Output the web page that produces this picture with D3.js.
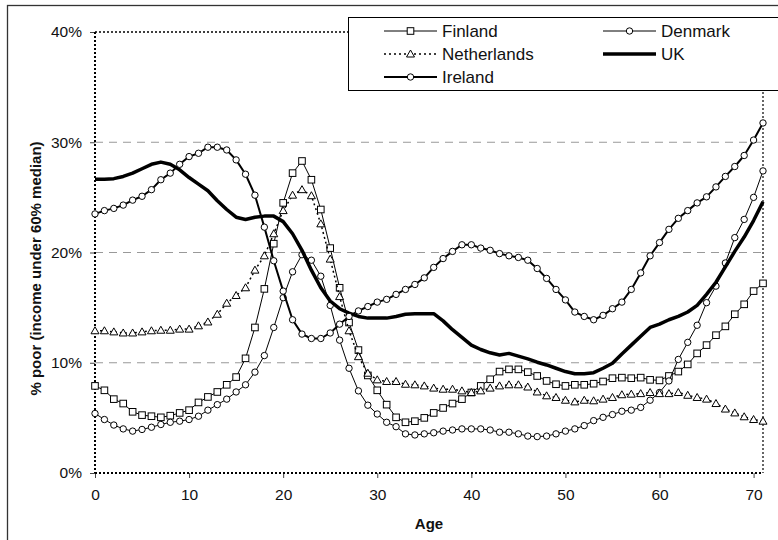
<!DOCTYPE html>
<html><head><meta charset="utf-8">
<script src="https://cdn.jsdelivr.net/npm/d3@7"></script>
<style>body{margin:0;background:#fff}svg{display:block;font-family:"Liberation Sans",Arial,sans-serif}</style>
</head><body><svg id="c" width="778" height="540"></svg>
<script>
const ages = [0,1,2,3,4,5,6,7,8,9,10,11,12,13,14,15,16,17,18,19,20,21,22,23,24,25,26,27,28,29,30,31,32,33,34,35,36,37,38,39,40,41,42,43,44,45,46,47,48,49,50,51,52,53,54,55,56,57,58,59,60,61,62,63,64,65,66,67,68,69,70,71];
const finland = [7.9,7.5,6.7,6.3,5.55,5.25,5.15,5.05,5.2,5.45,5.7,6.4,6.9,7.35,8.0,8.7,10.4,13.2,16.7,20.8,24.5,27.2,28.3,26.6,23.9,20.4,16.8,13.65,11.15,8.85,7.5,6.2,5.05,4.6,4.7,5.0,5.45,5.9,6.3,6.7,7.3,7.9,8.5,9.2,9.4,9.4,9.15,8.8,8.35,8.05,7.9,8.0,8.0,8.1,8.3,8.6,8.65,8.6,8.65,8.45,8.4,8.8,9.2,9.85,10.85,11.6,12.5,13.3,14.4,15.3,16.5,17.2];
const denmark = [5.4,4.85,4.35,4.0,3.8,3.95,4.15,4.4,4.6,4.7,4.85,5.15,5.7,6.2,6.7,7.35,8.0,9.15,10.65,13.2,15.9,18.25,19.8,19.3,17.85,15.2,12.05,9.5,7.45,6.15,5.35,4.6,4.2,3.55,3.45,3.55,3.65,3.8,3.9,4.0,4.0,4.0,3.9,3.7,3.7,3.55,3.35,3.3,3.35,3.55,3.8,4.0,4.3,4.75,5.05,5.3,5.6,5.7,5.95,6.6,7.3,8.35,10.3,11.85,13.4,15.45,16.95,19.05,21.35,23.0,25.0,27.4];
const netherlands = [12.9,12.9,12.8,12.7,12.7,12.8,12.9,12.95,12.95,13.05,13.05,13.35,13.7,14.4,15.4,16.1,16.8,18.4,19.7,21.7,23.8,25.2,25.7,25.15,22.6,19.4,16.0,12.9,10.55,9.05,8.45,8.3,8.3,8.05,8.0,7.9,7.7,7.6,7.6,7.45,7.3,7.45,7.7,7.9,8.0,8.0,7.8,7.35,7.0,6.85,6.6,6.45,6.6,6.55,6.7,6.85,7.1,7.15,7.2,7.3,7.2,7.2,7.3,7.05,6.85,6.7,6.3,5.8,5.45,5.1,4.85,4.7];
const uk = [26.65,26.65,26.7,26.9,27.2,27.6,28.0,28.2,28.0,27.5,26.8,26.2,25.6,24.7,23.9,23.2,23.0,23.2,23.3,23.3,22.8,21.7,20.2,18.4,16.8,15.6,14.9,14.5,14.2,14.05,14.05,14.05,14.2,14.4,14.45,14.45,14.45,13.8,13.0,12.3,11.6,11.2,10.9,10.7,10.85,10.6,10.35,10.05,9.8,9.5,9.2,9.0,9.0,9.1,9.5,9.95,10.8,11.6,12.4,13.2,13.5,13.9,14.2,14.6,15.2,16.2,17.3,18.7,20.1,21.4,22.9,24.6];
const ireland = [23.5,23.8,24.0,24.3,24.75,25.1,25.7,26.6,27.2,28.0,28.7,29.0,29.55,29.55,29.3,28.4,27.1,25.2,22.3,19.25,16.5,13.9,12.6,12.2,12.2,12.7,13.5,14.2,14.7,15.1,15.5,15.75,16.2,16.65,17.1,17.7,18.65,19.45,20.1,20.7,20.7,20.4,20.2,19.9,19.7,19.55,19.3,18.55,17.65,16.65,15.7,14.6,14.2,13.9,14.3,14.9,15.5,16.65,18.15,19.7,20.9,22.1,23.1,23.8,24.5,25.05,25.95,26.9,27.8,28.8,30.2,31.75];
const yTicks = [0,10,20,30,40];
const xTicks = [0,10,20,30,40,50,60,70];
const yTitle = "% poor (income under 60% median)";
const xTitle = "Age";

const series = [
  {name:"Finland", values:finland, marker:"square", width:1, dash:null},
  {name:"Denmark", values:denmark, marker:"circle", width:1, dash:null},
  {name:"Netherlands", values:netherlands, marker:"triangle", width:1.5, dash:"2,3"},
  {name:"UK", values:uk, marker:null, width:3.5, dash:null},
  {name:"Ireland", values:ireland, marker:"circle", width:2, dash:null}
];

const svg = d3.select("#c");
const x = d3.scaleLinear().domain([0,71]).range([95,763]);
const y = d3.scaleLinear().domain([0,40]).range([473,32]);

svg.append("rect").attr("x",7.5).attr("y",5.5).attr("width",800).attr("height",600)
  .attr("fill","none").attr("stroke","#333").attr("stroke-width",1.3);

svg.append("g").selectAll("line").data(yTicks.filter(d=>d>0 && d<40)).join("line")
  .attr("x1",x(0)).attr("x2",x(71)).attr("y1",d=>y(d)).attr("y2",d=>y(d))
  .attr("stroke","#999").attr("stroke-width",1).attr("stroke-dasharray","8,6");

const yAxis = svg.append("g").attr("transform",`translate(${x(0)},0)`)
  .call(d3.axisLeft(y).tickValues(yTicks).tickFormat(d=>d+"%").tickSize(5).tickPadding(8));
const xAxis = svg.append("g").attr("transform",`translate(0,${y(0)})`)
  .call(d3.axisBottom(x).tickValues(xTicks).tickFormat(d3.format("d")).tickSize(5).tickPadding(11));
[yAxis,xAxis].forEach(a=>{
  a.select(".domain").remove();
  a.selectAll("line").attr("stroke","#444");
  a.selectAll("text").attr("font-size",15.5).attr("fill","#111").attr("font-family",'"Liberation Sans",Arial,sans-serif');
});

const fr = svg.append("g").attr("fill","none").attr("stroke","#000");
fr.append("line").attr("x1",x(0)).attr("x2",x(71)).attr("y1",y(40)).attr("y2",y(40)).attr("stroke-width",1.5).attr("stroke-dasharray","2,2");
fr.append("line").attr("x1",x(71)).attr("x2",x(71)).attr("y1",y(40)).attr("y2",y(0)).attr("stroke-width",1.2).attr("stroke-dasharray","2,2");
fr.append("line").attr("x1",x(0)).attr("x2",x(0)).attr("y1",y(40)).attr("y2",y(0)).attr("stroke-width",2).attr("stroke-dasharray","2,2");
fr.append("line").attr("x1",x(0)).attr("x2",x(71)).attr("y1",y(0)).attr("y2",y(0)).attr("stroke-width",2).attr("stroke-dasharray","2,2");

svg.append("text").attr("transform",`translate(41,${(y(0)+y(40))/2 + 16}) rotate(-90)`)
  .attr("text-anchor","middle").attr("font-weight","bold").attr("font-size",15).attr("fill","#111").text(yTitle);
svg.append("text").attr("x",(x(0)+x(71))/2).attr("y",529).attr("text-anchor","middle")
  .attr("font-weight","bold").attr("font-size",15).attr("fill","#111").text(xTitle);

function drawMarker(g, type, cx, cy){
  if(type==="square"){
    g.append("rect").attr("x",cx-3.3).attr("y",cy-3.3).attr("width",6.6).attr("height",6.6)
      .attr("fill","#fff").attr("stroke","#000").attr("stroke-width",1);
  } else if(type==="circle"){
    g.append("circle").attr("cx",cx).attr("cy",cy).attr("r",3.2)
      .attr("fill","#fff").attr("stroke","#000").attr("stroke-width",1);
  } else if(type==="triangle"){
    g.append("path").attr("d",`M${cx},${cy-4}L${cx+4},${cy+3}L${cx-4},${cy+3}Z`)
      .attr("fill","#fff").attr("stroke","#000").attr("stroke-width",1);
  }
}

const line = d3.line().x((d,i)=>x(ages[i])).y(d=>y(d));
const plot = svg.append("g");
series.forEach(s=>{
  const g = plot.append("g");
  g.append("path").attr("d",line(s.values)).attr("fill","none").attr("stroke","#000")
    .attr("stroke-width",s.width).attr("stroke-dasharray",s.dash).attr("stroke-linejoin","round");
  if(s.marker) s.values.forEach((v,i)=>drawMarker(g,s.marker,x(ages[i]),y(v)));
});

const lg = svg.append("g");
lg.append("rect").attr("x",348.5).attr("y",17.5).attr("width",500).attr("height",73)
  .attr("fill","#fff").attr("stroke","#000").attr("stroke-width",1);
const legPos = [
  {s:series[0], lx:384, ty:31},
  {s:series[2], lx:384, ty:54},
  {s:series[4], lx:384, ty:77},
  {s:series[1], lx:603, ty:31},
  {s:series[3], lx:603, ty:54}
];
legPos.forEach(p=>{
  lg.append("line").attr("x1",p.lx).attr("x2",p.lx+53).attr("y1",p.ty).attr("y2",p.ty)
    .attr("stroke","#000").attr("stroke-width",p.s.width).attr("stroke-dasharray",p.s.dash);
  if(p.s.marker) drawMarker(lg,p.s.marker,p.lx+26.5,p.ty);
  lg.append("text").attr("x",p.lx+58).attr("y",p.ty).attr("dy","0.36em")
    .attr("font-size",17).attr("fill","#111").text(p.s.name);
});
</script></body></html>
